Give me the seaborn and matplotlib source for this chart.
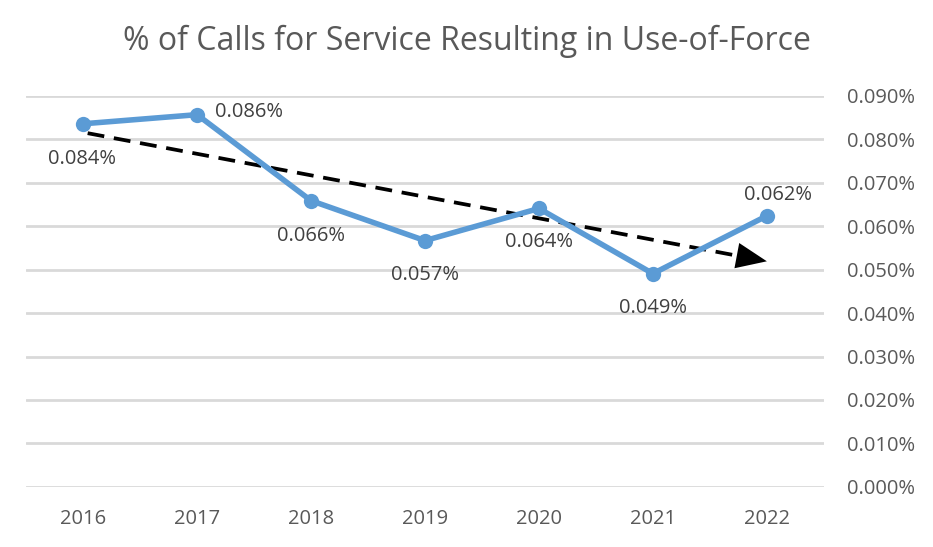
import numpy as np
import pandas as pd
import matplotlib
matplotlib.use("Agg")
import matplotlib.pyplot as plt
import seaborn as sns

years = [2016, 2017, 2018, 2019, 2020, 2021, 2022]
pct_values = [0.0836, 0.0857, 0.0659, 0.0567, 0.0641, 0.0491, 0.0624]
y_ticks = [0.0, 0.01, 0.02, 0.03, 0.04, 0.05, 0.06, 0.07, 0.08, 0.09]
title = "% of Calls for Service Resulting in Use-of-Force"

sns.set_theme(style="white")
plt.rcParams['font.family'] = ['Open Sans', 'DejaVu Sans']

df = pd.DataFrame({"year": years, "pct": pct_values})

fig = plt.figure(figsize=(9.33, 5.47), dpi=100)
ax = fig.add_axes([0.028, 0.110, 0.855, 0.7145])

blue = "#5B9BD5"
text_col = "#595959"

for t in y_ticks:
    ax.axhline(t, color="#D9D9D9", lw=2.0, zorder=0)

sns.lineplot(data=df, x="year", y="pct", ax=ax, color=blue, lw=4.0,
             marker="o", markersize=11, markeredgewidth=0, zorder=3)

# linear trendline with arrow
coef = np.polyfit(np.arange(len(years)), pct_values, 1)
def trend(x):
    return np.polyval(coef, x - years[0])
xs = years[0] + 0.04
xe = years[-1] - 0.2
ax.plot([xs, xe], [trend(xs), trend(xe)], color="black", lw=2.7,
        ls=(0, (4.5, 2.6)), zorder=2, solid_capstyle="butt")
ax.annotate("", xy=(years[-1], trend(years[-1])), xytext=(xe + 0.02, trend(xe + 0.02)),
            arrowprops=dict(arrowstyle="-|>,head_length=1.0,head_width=0.42",
                            mutation_scale=22, color="black", lw=0,
                            shrinkA=0, shrinkB=0), zorder=2)

offsets = [(-1, -35), (52, 3), (0, -35), (0, -34), (0, -34), (0, -34), (11, 21)]
for yr, v, off in zip(years, pct_values, offsets):
    ax.annotate(f"{v:.3f}%", xy=(yr, v), xytext=off, textcoords="offset pixels",
                ha="center", va="center", fontsize=14.5, color="#404040", zorder=4)

ax.set_xlim(2015.5, 2022.5)
ax.set_ylim(0, 0.09)
ax.set_xticks(years)
ax.set_xticklabels([str(y) for y in years])
ax.set_yticks(y_ticks)
ax.set_yticklabels([f"{t:.3f}%" for t in y_ticks])
ax.yaxis.tick_right()
ax.tick_params(axis="y", length=0, pad=17, labelsize=14.5, labelcolor=text_col)
ax.tick_params(axis="x", length=0, pad=16, labelsize=14.5, labelcolor=text_col)
ax.set_xlabel("")
ax.set_ylabel("")
for s in ax.spines.values():
    s.set_visible(False)

fig.text(0.5, 0.925, title, ha="center", va="center", fontsize=23, color=text_col)

fig.savefig("out.png", dpi=100)
